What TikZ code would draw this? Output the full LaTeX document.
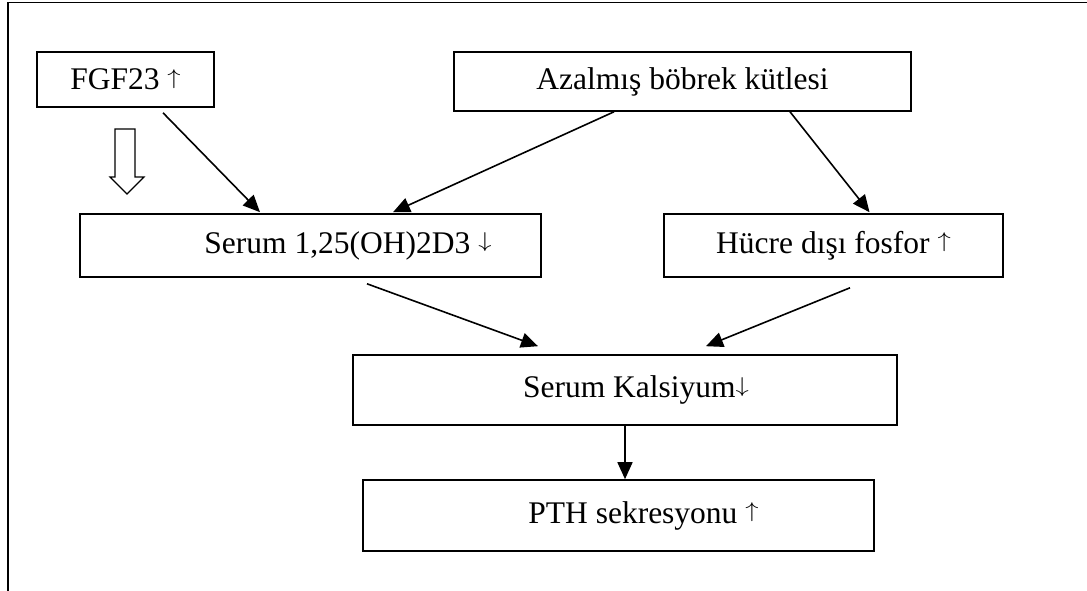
\documentclass[tikz,border=0pt]{standalone}
\usepackage{graphicx}
\usepackage{fontspec}
\setmainfont{Liberation Serif}
\usetikzlibrary{arrows.meta}
\newcommand{\upa}{\resizebox{0.42em}{0.64em}{\raisebox{0.194em}{$\uparrow$}}}
\newcommand{\dna}{\resizebox{0.42em}{0.64em}{\raisebox{0.194em}{$\downarrow$}}}
\begin{document}
\begin{tikzpicture}[x=1pt,y=-1pt,
  box/.style={draw,line width=1.6pt,minimum width=#1,inner sep=0pt,font=\fontsize{31.5}{36}\selectfont},
  conn/.style={line width=1.6pt,-{Triangle[length=17pt,width=15pt]}},
  frame/.style={line width=1.8pt}]
\useasboundingbox (0,0) rectangle (1087,591);
\draw[frame] (8,591) -- (8,2.5) -- (1087,2.5);
\node[box=177pt,minimum height=55pt] (fgf) at (125.5,79.5) {FGF23 \upa};
\node[box=457pt,minimum height=59pt] (azal) at (682.5,81.5) {Azalmış böbrek kütlesi};
\node[box=461pt,minimum height=63pt] (serum) at (310.5,245.5) {\hspace*{75pt}Serum 1,25(OH)2D3 \dna};
\node[box=339pt,minimum height=63pt] (hucre) at (833.5,245.5) {Hücre dışı fosfor \upa};
\node[box=544pt,minimum height=70pt] (kals) at (625,390) {\hspace*{22pt}Serum Kalsiyum\dna};
\node[box=511pt,minimum height=71pt] (pth) at (618.5,515.5) {\hspace*{50pt}PTH sekresyonu \upa};
% hollow arrow
\draw[line width=1.2pt] (115,129) -- (135,129) -- (135,177) -- (144,177) -- (127,194) -- (110,177) -- (115,177) -- cycle;
% connectors
\draw[conn] ([xshift=37.5pt,yshift=-5pt]fgf.south) -- ([xshift=-50.5pt,yshift=1pt]serum.north);
\draw[conn] ([xshift=-68.5pt]azal.south) -- ([xshift=82.5pt,yshift=1pt]serum.north);
\draw[conn] ([xshift=107.5pt]azal.south) -- ([xshift=36pt,yshift=1pt]hucre.north);
\draw[conn] ([xshift=56.5pt,yshift=-6pt]serum.south) -- ([xshift=-87pt,yshift=8pt]kals.north);
\draw[conn] ([xshift=16.5pt,yshift=-10pt]hucre.south) -- ([xshift=81pt,yshift=8pt]kals.north);
\draw[conn] (kals.south) -- (kals.south |- pth.north);
\end{tikzpicture}
\end{document}
